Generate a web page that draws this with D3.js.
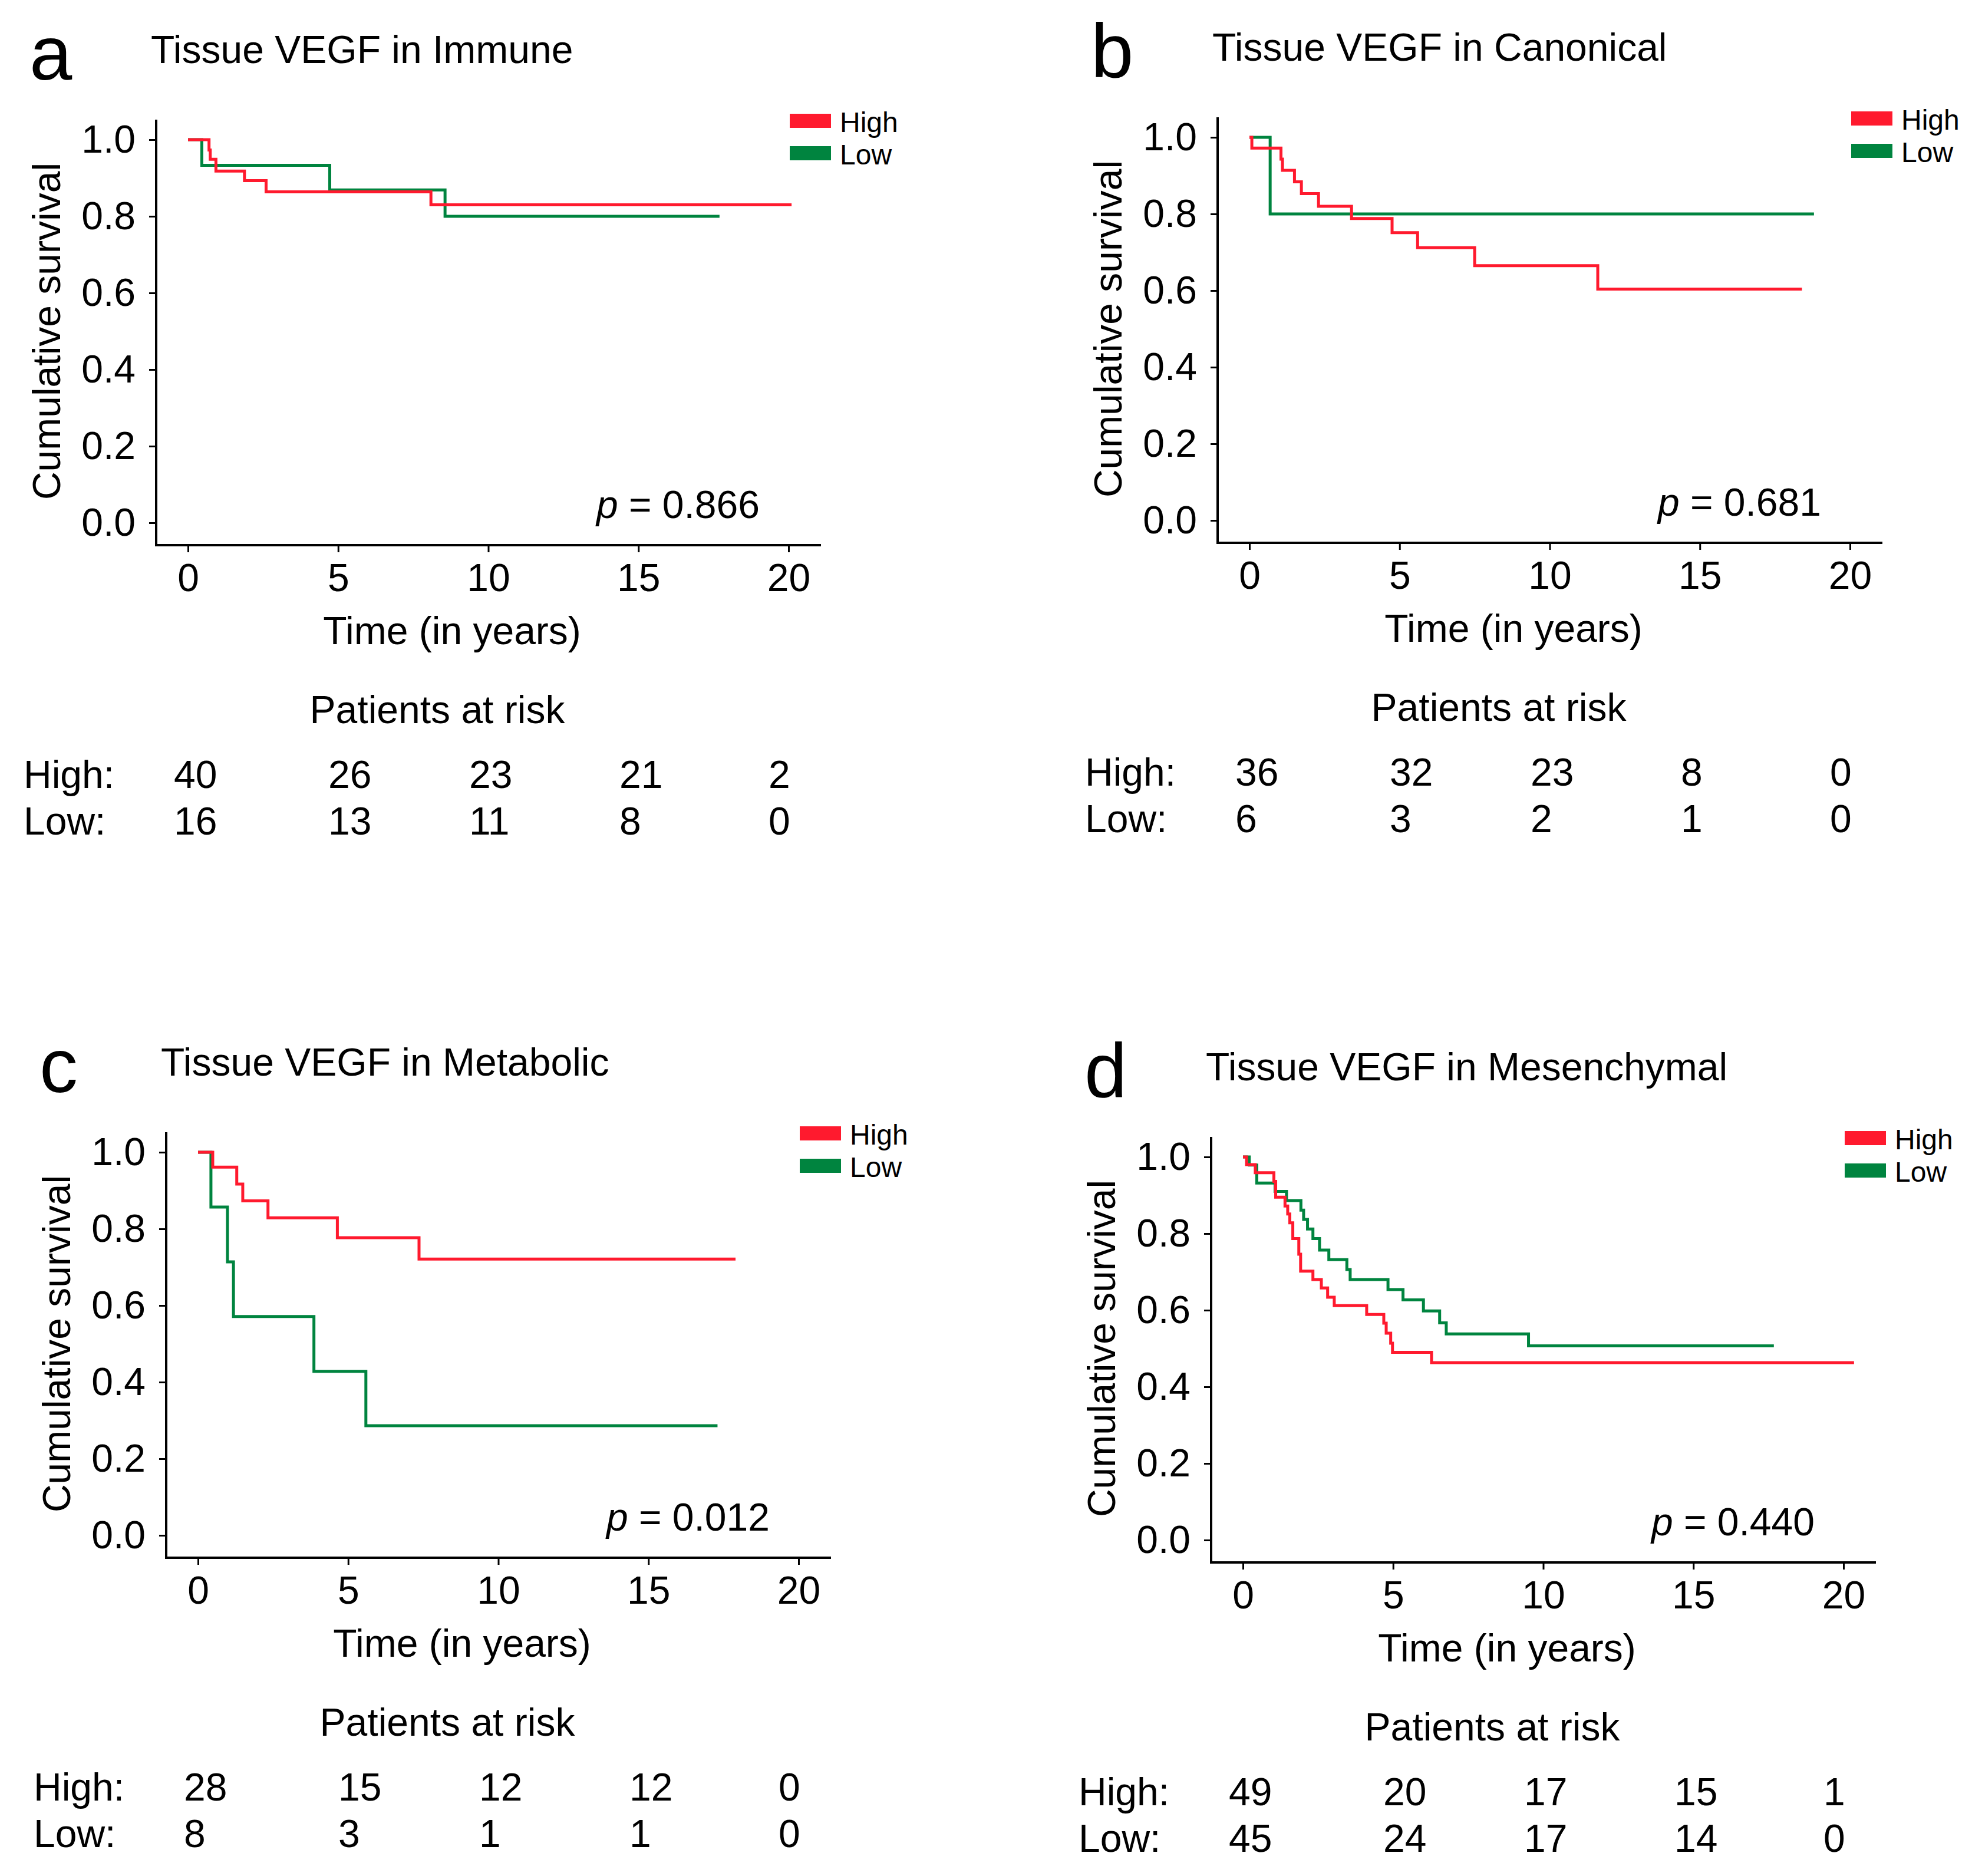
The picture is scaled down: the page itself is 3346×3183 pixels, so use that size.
<!DOCTYPE html>
<html>
<head>
<meta charset="utf-8">
<script src="https://cdn.jsdelivr.net/npm/d3@7/dist/d3.min.js"></script>
<style>
  body { margin: 0; background: #fff; }
  svg { font-family: "Liberation Sans", Arial, sans-serif; }
</style>
</head>
<body>
<svg width="3346" height="3183"></svg>
<script>
// panel texts
const panelLetters = ["a", "b", "c", "d"];
const panelTitles = ["Tissue VEGF in Immune", "Tissue VEGF in Canonical",
                     "Tissue VEGF in Metabolic", "Tissue VEGF in Mesenchymal"];
const pValues = ["0.866", "0.681", "0.012", "0.440"];
const xTicks = [0, 5, 10, 15, 20];
const yTicks = [0, 0.2, 0.4, 0.6, 0.8, 1.0];
const groups = ["High", "Low"];

// patients at risk at 0, 5, 10, 15, 20 years
const riskHigh = [[40, 26, 23, 21, 2], [36, 32, 23, 8, 0], [28, 15, 12, 12, 0], [49, 20, 17, 15, 1]];
const riskLow  = [[16, 13, 11, 8, 0], [6, 3, 2, 1, 0], [8, 3, 1, 1, 0], [45, 24, 17, 14, 0]];

// Kaplan-Meier steps [time, survival] (last point = end of follow-up)
const immuneHigh = [[0,1],[0.70,0.973],[0.74,0.949],[0.93,0.918],[1.88,0.893],[2.60,0.864],[8.09,0.830],[20.1,0.830]];
const immuneLow  = [[0,1],[0.46,0.933],[4.72,0.869],[8.56,0.800],[17.7,0.800]];

const canonicalHigh = [[0,1],[0.08,0.972],[1.05,0.943],[1.10,0.914],[1.50,0.884],[1.73,0.853],[2.30,0.820],
                       [3.40,0.788],[4.75,0.751],[5.60,0.712],[7.50,0.665],[11.6,0.604],[18.4,0.604]];
const canonicalLow  = [[0,1],[0.69,0.800],[18.8,0.800]];

const metabolicHigh = [[0,1],[0.49,0.961],[1.29,0.917],[1.49,0.873],[2.33,0.829],[4.64,0.777],[7.36,0.721],[17.9,0.721]];
const metabolicLow  = [[0,1],[0.43,0.857],[0.98,0.714],[1.18,0.571],[3.86,0.428],[5.59,0.286],[17.3,0.286]];

const mesenchymalHigh = [[0,1],[0.12,0.980],[0.41,0.959],[1.03,0.936],[1.09,0.895],[1.40,0.872],[1.49,0.851],
                         [1.56,0.828],[1.66,0.787],[1.86,0.746],[1.92,0.702],[2.33,0.680],[2.61,0.658],[2.82,0.634],
                         [3.04,0.612],[4.12,0.589],[4.69,0.566],[4.77,0.540],[4.92,0.514],[4.98,0.490],[6.28,0.463],[20.35,0.463]];
const mesenchymalLow  = [[0,1],[0.21,0.979],[0.46,0.932],[1.07,0.910],[1.45,0.886],[1.93,0.861],[2.02,0.837],
                         [2.15,0.812],[2.33,0.787],[2.55,0.757],[2.86,0.732],[3.46,0.706],[3.57,0.680],[4.83,0.654],
                         [5.33,0.627],[6.01,0.598],[6.55,0.567],[6.77,0.538],[9.51,0.507],[17.68,0.507]];

const curvesHigh = [immuneHigh, canonicalHigh, metabolicHigh, mesenchymalHigh];
const curvesLow  = [immuneLow, canonicalLow, metabolicLow, mesenchymalLow];

// layout
const origins = [[265, 237], [2066, 233], [282, 1955], [2055, 1963]];
const red = "#ff1a2e", green = "#00843f";
const fs = 66;

const svg = d3.select("svg");
svg.append("rect").attr("width", 3346).attr("height", 3183).attr("fill", "#fff");

const x = d3.scaleLinear().domain([0, 20]).range([54, 1073]);
const y = d3.scaleLinear().domain([0, 1]).range([650, 0]);
const axisY = 688;   // where the x axis sits
const stepLine = d3.line().x(d => x(d[0])).y(d => y(d[1])).curve(d3.curveStepAfter);

panelLetters.forEach((letter, i) => {
  const g = svg.append("g").attr("transform", `translate(${origins[i][0]},${origins[i][1]})`);

  g.append("text").attr("x", -215).attr("y", -102).attr("font-size", 130).text(letter);
  g.append("text").attr("x", -9).attr("y", -130).attr("font-size", fs).text(panelTitles[i]);

  // axis lines
  g.append("line").attr("x1", 0).attr("x2", 0).attr("y1", -34).attr("y2", axisY + 2)
    .attr("stroke", "#000").attr("stroke-width", 4);
  g.append("line").attr("x1", -2).attr("x2", 1128).attr("y1", axisY).attr("y2", axisY)
    .attr("stroke", "#000").attr("stroke-width", 4);

  const gx = g.append("g").attr("transform", `translate(0,${axisY})`)
    .call(d3.axisBottom(x).tickValues(xTicks).tickSize(12).tickPadding(19));
  const gy = g.append("g")
    .call(d3.axisLeft(y).tickValues(yTicks).tickFormat(d3.format(".1f")).tickSize(12).tickPadding(23));
  [gx, gy].forEach(a => {
    a.select(".domain").remove();
    a.selectAll("line").attr("stroke-width", 3);
    a.selectAll("text").attr("font-size", fs).attr("font-family", "Liberation Sans, Arial, sans-serif");
  });

  // axis titles
  g.append("text").attr("transform", "translate(-163,325) rotate(-90)")
    .attr("text-anchor", "middle").attr("font-size", fs).text("Cumulative survival");
  g.append("text").attr("x", 502).attr("y", 856).attr("text-anchor", "middle")
    .attr("font-size", fs).text("Time (in years)");

  // survival curves
  g.append("path").attr("d", stepLine(curvesLow[i])).attr("fill", "none")
    .attr("stroke", green).attr("stroke-width", 5);
  g.append("path").attr("d", stepLine(curvesHigh[i])).attr("fill", "none")
    .attr("stroke", red).attr("stroke-width", 5);

  // legend (two rows, kept just far enough apart not to collide)
  const leg = g.selectAll(".legend").data(groups).enter().append("g")
    .attr("transform", (d, k) => `translate(1075,${k === 0 ? -13 : 42})`);
  leg.append("rect").attr("y", -31).attr("width", 70).attr("height", 24)
    .attr("fill", (d, k) => k === 0 ? red : green);
  leg.append("text").attr("x", 85).attr("y", 0)
    .attr("font-size", 48).text(d => d);

  // p value
  const pt = g.append("text").attr("x", 1024).attr("y", 642).attr("text-anchor", "end").attr("font-size", fs);
  pt.append("tspan").attr("font-style", "italic").text("p");
  pt.append("tspan").text(" = " + pValues[i]);

  // patients at risk table
  g.append("text").attr("x", 477).attr("y", 990).attr("text-anchor", "middle")
    .attr("font-size", fs).text("Patients at risk");
  const rows = [riskHigh[i], riskLow[i]];
  const numX = [30, 292, 531, 786, 1039];
  rows.forEach((row, r) => {
    const by = r === 0 ? 1100 : 1179;
    g.append("text").attr("x", -225).attr("y", by).attr("font-size", fs).text(groups[r] + ":");
    g.selectAll(null).data(row).enter().append("text")
      .attr("x", (d, k) => numX[k]).attr("y", by).attr("font-size", fs).text(d => d);
  });
});
</script>
</body>
</html>
